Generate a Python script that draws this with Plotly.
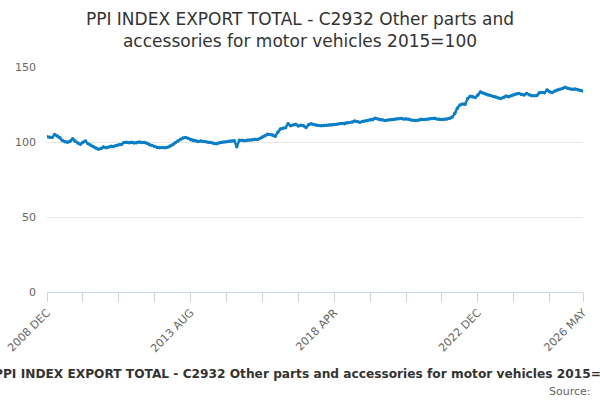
import plotly.graph_objects as go
import pandas as pd

# monthly categories, 2008 DEC .. 2026 MAY
months = [d.strftime("%Y %b").upper() for d in pd.date_range("2008-12-01", "2026-05-01", freq="MS")]

# index values (2015=100)
ppi_values = [
    103.5, 103.2, 103.0, 105.0, 104.0, 102.8, 101.0, 100.2, 99.8, 100.5,
    102.2, 100.5, 99.3, 98.5, 99.8, 100.7, 98.8, 98.0, 96.9, 96.0,
    95.2, 95.6, 96.7, 96.2, 96.6, 97.1, 97.0, 97.6, 98.2, 98.4,
    99.6, 99.8, 99.5, 99.8, 99.3, 99.5, 100.0, 99.6, 99.7, 99.1,
    98.2, 97.6, 97.0, 96.4, 96.2, 96.3, 96.1, 96.5, 97.3, 98.2,
    99.5, 100.6, 101.9, 102.6, 103.0, 102.5, 101.5, 101.0, 100.7, 100.4,
    100.6, 100.3, 100.2, 99.9, 99.6, 99.2, 98.9, 99.3, 99.8, 100.0,
    100.2, 100.5, 100.7, 100.9, 96.9, 101.2, 101.1, 100.8, 101.1, 101.3,
    101.5, 101.8, 101.6, 102.4, 103.3, 104.2, 105.1, 105.0, 104.6, 103.8,
    106.5, 108.7, 109.1, 109.5, 112.2, 110.9, 111.4, 111.8, 110.7, 111.2,
    110.9, 109.6, 111.5, 112.2, 111.6, 111.1, 111.0, 110.9, 111.0, 111.2,
    111.4, 111.3, 111.6, 111.8, 112.1, 112.4, 112.2, 112.6, 113.0, 113.4,
    114.0, 113.6, 113.1, 113.6, 114.0, 114.4, 114.7, 114.9, 115.8, 115.3,
    114.9, 114.6, 114.4, 114.6, 114.9, 115.0, 115.3, 115.5, 115.6, 115.4,
    115.5, 115.1, 114.7, 114.5, 114.4, 114.7, 115.1, 115.0, 115.1, 115.4,
    115.6, 115.8, 115.4, 115.1, 115.0, 115.1, 115.4, 115.8, 116.6, 119.0,
    122.5, 124.7, 125.3, 125.2, 128.8, 130.5, 130.2, 129.6, 131.3, 133.4,
    132.6, 132.0, 131.3, 131.0, 130.4, 130.0, 129.3, 129.0, 129.7, 130.6,
    130.2, 130.9, 131.5, 132.0, 132.4, 131.6, 131.3, 132.4, 131.5, 130.9,
    130.8, 131.0, 132.9, 133.0, 132.8, 134.7, 133.5, 133.0, 134.0, 134.7,
    135.1, 135.6, 136.5, 135.8, 135.3, 135.1, 135.3, 134.9, 134.3, 134.0,
]

# a tick every 14 months, a label every 4th tick plus the last month
tick_idx = list(range(0, len(months), 14)) + [len(months) - 1]
tick_vals = [months[i] for i in tick_idx]
tick_text = [months[i] if (i % 56 == 0 or i == len(months) - 1) else "" for i in tick_idx]

title = "PPI INDEX EXPORT TOTAL - C2932 Other parts and accessories for motor vehicles 2015=100"

fig = go.Figure()
fig.add_trace(go.Scatter(
    x=months, y=ppi_values, mode="lines+markers",
    line=dict(color="#0a7ec8", width=2.5),
    marker=dict(color="#0a7ec8", size=3.5),
    name=title, showlegend=False,
))

fig.update_layout(
    width=600, height=400,
    margin=dict(l=47, r=17, t=67, b=108, autoexpand=False),
    paper_bgcolor="white", plot_bgcolor="white",
    font=dict(family="DejaVu Sans", color="#666666"),
    title=dict(
        text="PPI INDEX EXPORT TOTAL - C2932 Other parts and<br>accessories for motor vehicles 2015=100",
        x=0.5, xanchor="center", y=0.9375, yanchor="middle",
        font=dict(family="DejaVu Sans", size=17, color="#333333"),
    ),
    xaxis=dict(
        type="category", range=[0, len(months) - 1], automargin=False,
        tickmode="array", tickvals=tick_vals, ticktext=tick_text,
        tickangle=-45, tickfont=dict(size=11, color="#666666"),
        ticks="outside", ticklen=9, tickcolor="#ccd6eb",
        showline=True, linecolor="#ccd6eb", linewidth=1,
        showgrid=False, zeroline=False,
    ),
    yaxis=dict(
        range=[0, 150], dtick=50, automargin=False,
        tickfont=dict(size=11, color="#666666"),
        gridcolor="#e6e6e6", showline=False, zeroline=False,
        ticks="", ticklabelstandoff=10,
    ),
    annotations=[
        dict(text="<b>" + title + "</b>", xref="paper", yref="paper",
             x=0.491, y=-0.365, xanchor="center", yanchor="middle", showarrow=False,
             font=dict(family="DejaVu Sans", size=12.2, color="#333333")),
        dict(text="Source:", xref="paper", yref="paper",
             x=1.019, y=-0.44, xanchor="right", yanchor="middle", showarrow=False,
             font=dict(family="DejaVu Sans", size=11, color="#666666")),
    ],
)

# drop the browser's default 8px body margin so the 600x400 figure fills the window
fig.write_html("out.html", config={"displayModeBar": False},
               post_script="document.body.style.margin='0';")
